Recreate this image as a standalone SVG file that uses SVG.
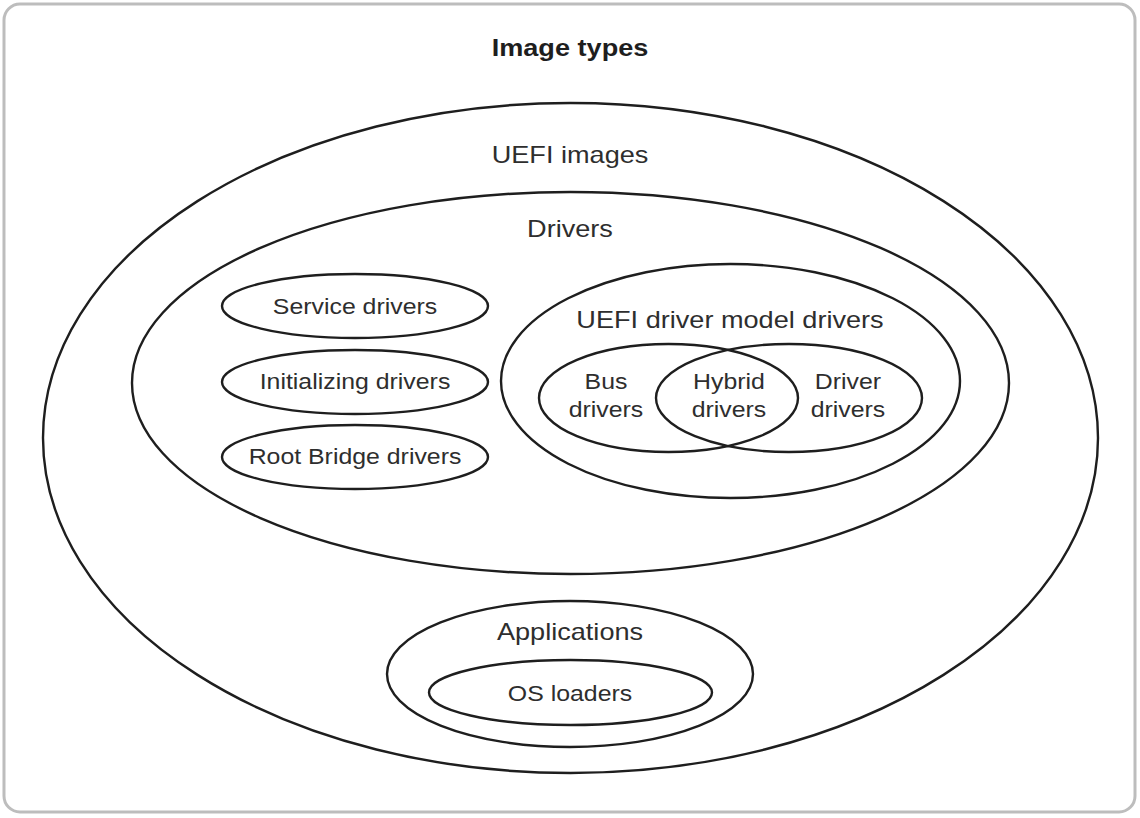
<svg xmlns="http://www.w3.org/2000/svg" width="1140" height="818" viewBox="0 0 1140 818">
  <style>
    .frame { fill: #ffffff; stroke: #bdbdbd; stroke-width: 3; }
    .set { fill: none; stroke: #1e1e1e; stroke-width: 2.4; }
    .lbl { font-family: "Liberation Sans", Arial, sans-serif; fill: #2e2e2e; text-anchor: middle; }
    .big { font-size: 24px; }
    .small { font-size: 22px; }
    .title { font-size: 24px; font-weight: bold; fill: #1e1e1e; }
  </style>
  <rect width="1140" height="818" fill="#ffffff"/>
  <rect class="frame" x="4" y="4" width="1131" height="808" rx="16" ry="16"/>
  <text class="lbl title" transform="translate(570,56) scale(1.13,1)">Image types</text>

  <g id="uefi-images">
    <ellipse class="set" cx="570.5" cy="438" rx="527.5" ry="335"/>
    <text class="lbl big" transform="translate(570,163) scale(1.13,1)">UEFI images</text>
  </g>

  <g id="drivers">
    <ellipse class="set" cx="570.5" cy="383" rx="438.5" ry="191"/>
    <text class="lbl big" transform="translate(570,237) scale(1.13,1)">Drivers</text>
  </g>

  <g id="service-drivers">
    <ellipse class="set" cx="355" cy="306" rx="133" ry="32"/>
    <text class="lbl small" transform="translate(355,314) scale(1.13,1)">Service drivers</text>
  </g>

  <g id="initializing-drivers">
    <ellipse class="set" cx="355" cy="382" rx="133" ry="32"/>
    <text class="lbl small" transform="translate(355,389) scale(1.13,1)">Initializing drivers</text>
  </g>

  <g id="root-bridge-drivers">
    <ellipse class="set" cx="355" cy="457" rx="133" ry="32"/>
    <text class="lbl small" transform="translate(355,464) scale(1.13,1)">Root Bridge drivers</text>
  </g>

  <g id="uefi-driver-model-drivers">
    <ellipse class="set" cx="730.5" cy="381" rx="229.5" ry="117"/>
    <text class="lbl big" transform="translate(730,328) scale(1.13,1)">UEFI driver model drivers</text>
  </g>

  <g id="bus-drivers">
    <ellipse class="set" cx="668.5" cy="398" rx="129.5" ry="54"/>
    <text class="lbl small" transform="translate(606,389) scale(1.13,1)">Bus</text>
    <text class="lbl small" transform="translate(606,417) scale(1.13,1)">drivers</text>
  </g>

  <g id="driver-drivers">
    <ellipse class="set" cx="789" cy="398" rx="133" ry="54"/>
    <text class="lbl small" transform="translate(848,389) scale(1.13,1)">Driver</text>
    <text class="lbl small" transform="translate(848,417) scale(1.13,1)">drivers</text>
  </g>

  <g id="hybrid-drivers">
    <text class="lbl small" transform="translate(729,389) scale(1.13,1)">Hybrid</text>
    <text class="lbl small" transform="translate(729,417) scale(1.13,1)">drivers</text>
  </g>

  <g id="applications">
    <ellipse class="set" cx="570" cy="674" rx="183" ry="73"/>
    <text class="lbl big" transform="translate(570,640) scale(1.13,1)">Applications</text>
  </g>

  <g id="os-loaders">
    <ellipse class="set" cx="570.5" cy="692.5" rx="141.5" ry="32.5"/>
    <text class="lbl small" transform="translate(570,701) scale(1.13,1)">OS loaders</text>
  </g>

  <g id="connectors"></g>
</svg>
